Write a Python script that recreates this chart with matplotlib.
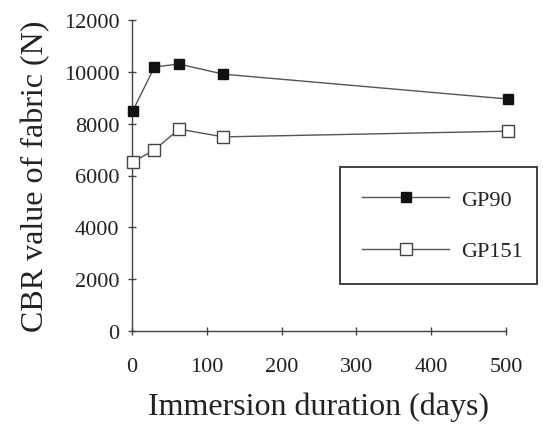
import matplotlib
matplotlib.use("Agg")
import matplotlib.pyplot as plt

days_gp90 = [1, 30, 63, 122, 503]
cbr_gp90 = [8490, 10190, 10300, 9910, 8950]
days_gp151 = [1, 30, 63, 122, 503]
cbr_gp151 = [6520, 6990, 7790, 7490, 7710]
xticks = [0, 100, 200, 300, 400, 500]
yticks = [0, 2000, 4000, 6000, 8000, 10000, 12000]

plt.rcParams['font.family'] = ['Liberation Serif', 'DejaVu Serif']

fig = plt.figure(figsize=(5.43, 4.27), dpi=100)
ax = fig.add_axes([132/543, 1-332/427, (506-132)/543, (332-21)/427])

lc = '#555555'
ax.plot(days_gp90, cbr_gp90, color=lc, lw=1.0, marker='s', ms=7,
        mfc='#111111', mec='#111111', label='GP90', clip_on=False, zorder=3)
ax.plot(days_gp151, cbr_gp151, color=lc, lw=1.0, marker='s', ms=8.5,
        mfc='white', mec='#444444', mew=1.0, label='GP151', clip_on=False, zorder=3)

ax.set_xlim(0, 500)
ax.set_ylim(0, 12000)
ax.set_xticks(xticks)
ax.set_yticks(yticks)
for s in ['top', 'right']:
    ax.spines[s].set_visible(False)
for s in ['left', 'bottom']:
    ax.spines[s].set_color('#444444')
    ax.spines[s].set_linewidth(1.0)
ax.tick_params(direction='inout', length=6, width=1.0, color='#444444',
               labelsize=16, labelcolor='#222222')
ax.tick_params(axis='x', pad=16)
ax.tick_params(axis='y', pad=6)

ax.set_xlabel('Immersion duration (days)', fontsize=23, color='#222222', labelpad=11)
ax.set_ylabel('CBR value of fabric (N)', fontsize=23, color='#222222', labelpad=10)

leg = ax.legend(loc='upper left',
                bbox_to_anchor=(340/543, 1-283/427, (537-340)/543, (283-168)/427),
                bbox_transform=fig.transFigure, mode='expand',
                fontsize=16, frameon=True, fancybox=False, handlelength=3.9,
                handletextpad=0.55, labelspacing=1.4, borderpad=1.0, borderaxespad=0)
leg.set_zorder(5)
leg.get_frame().set_edgecolor('#333333')
leg.get_frame().set_linewidth(1.3)
leg.get_frame().set_alpha(1)
for t in leg.get_texts():
    t.set_color('#222222')

fig.savefig('out.png', dpi=100)
